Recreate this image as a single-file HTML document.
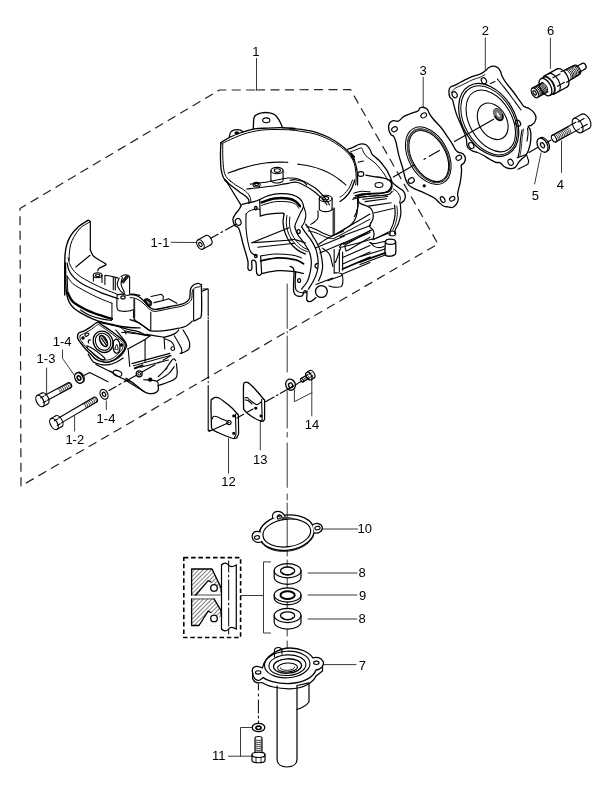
<!DOCTYPE html>
<html><head><meta charset="utf-8"><style>
html,body{margin:0;padding:0;background:#fff;width:616px;height:790px;overflow:hidden}
svg{display:block}
text{font-family:"Liberation Sans",sans-serif;font-size:13px;fill:#000}
svg{will-change:transform}
</style></head><body>
<svg width="616" height="790" viewBox="0 0 616 790">
<g fill="none" stroke="#000" stroke-width="1.1" stroke-linejoin="round" stroke-linecap="round">
<path d="M256,90 L350.5,89.5 L438,244 L21,486 L20,208.5 L219.5,90 Z" stroke="#222" stroke-dasharray="9 5.5" stroke-width="1.2" stroke-linecap="butt"/>
<path d="M256.5,58.5 V90" stroke="#3a3a3a" stroke-width="1"/>
<path d="M485.3,38 V69.5" stroke="#3a3a3a" stroke-width="1"/>
<path d="M550.4,38 V68.4" stroke="#3a3a3a" stroke-width="1"/>
<path d="M423.2,77.2 V108" stroke="#3a3a3a" stroke-width="1"/>
<path d="M541,153 L534.6,184" stroke="#3a3a3a" stroke-width="1"/>
<path d="M561.5,141 V172.4" stroke="#3a3a3a" stroke-width="1"/>
<path d="M171.2,242.3 L197,242.5" stroke="#3a3a3a" stroke-width="1"/>
<path d="M62.5,350 V358.4 L74.5,375.5" stroke="#3a3a3a" stroke-width="1"/>
<path d="M46.6,368 V394" stroke="#3a3a3a" stroke-width="1"/>
<path d="M74.6,416.4 V431" stroke="#3a3a3a" stroke-width="1"/>
<path d="M106.3,400.8 V409.6" stroke="#3a3a3a" stroke-width="1"/>
<path d="M228.5,438.3 V473.3" stroke="#3a3a3a" stroke-width="1"/>
<path d="M260.3,421.7 V450" stroke="#3a3a3a" stroke-width="1"/>
<path d="M294.4,389.8 V401.7 L312,392.6 M311.8,379 V415.8" stroke="#3a3a3a" stroke-width="1"/>
<path d="M323,529 H357.5" stroke="#3a3a3a" stroke-width="1"/>
<path d="M270.6,561.9 H263.5 V633 H270.6 M240.6,595.5 H263.5" stroke="#3a3a3a" stroke-width="1"/>
<path d="M308,573 H357 M308,595 H357 M308,619 H357" stroke="#3a3a3a" stroke-width="1"/>
<path d="M322.8,664.6 H356" stroke="#3a3a3a" stroke-width="1"/>
<path d="M252,727.5 H240.5 V756.2 M228.5,756.2 H252.6" stroke="#3a3a3a" stroke-width="1"/>
<path d="M287.2,284 V328.5 M287.2,331.5 V333 M287.2,336 V372 M287.2,391 V428 M287.2,432.5 V437 M287.2,443 V487.4 M287.2,494 V500 M287.2,503 V547 M287.2,551 V556 M287.2,560 V567 M287.2,578 V588 M287.2,602 V609 M287.2,630 V636 M287.2,641 V672" stroke-width="1" stroke="#3a3a3a"/>
<ellipse cx="534.9" cy="92.8" rx="2.97" ry="5.4" transform="rotate(-28.6 534.9 92.8)" stroke-width="1.3"/>
<ellipse cx="534.64" cy="92.94" rx="1.32" ry="2.4" transform="rotate(-28.6 534.64 92.94)" stroke-width="1.2"/>
<path d="M532.32,88.06 L542.85,82.31" stroke-width="1.2"/>
<path d="M537.48,97.54 L548.02,91.8" stroke-width="1.2"/>
<path d="M534.07,87.1 A2.97,5.4 -28.6 0 1 539.24,96.58" stroke-width="1"/>
<path d="M535.3,86.43 A2.97,5.4 -28.6 0 1 540.47,95.91" stroke-width="1"/>
<path d="M536.53,85.76 A2.97,5.4 -28.6 0 1 541.7,95.24" stroke-width="1"/>
<path d="M537.76,85.09 A2.97,5.4 -28.6 0 1 542.93,94.57" stroke-width="1"/>
<path d="M538.99,84.42 A2.97,5.4 -28.6 0 1 544.16,93.9" stroke-width="1"/>
<path d="M540.22,83.75 A2.97,5.4 -28.6 0 1 545.39,93.23" stroke-width="1"/>
<path d="M541.45,83.08 A2.97,5.4 -28.6 0 1 546.62,92.56" stroke-width="1"/>
<ellipse cx="545.44" cy="87.06" rx="5.23" ry="9.5" transform="rotate(-28.6 545.44 87.06)" stroke-width="1.3"/>
<path d="M540.89,78.71 L543.52,77.28" stroke-width="1.2"/>
<path d="M549.98,95.4 L552.62,93.96" stroke-width="1.2"/>
<path d="M543.52,77.28 A5.23,9.5 -28.6 0 1 552.62,93.96" stroke-width="1.2"/>
<path d="M543.58,76.34 L557.19,68.92" stroke-width="1.3"/>
<path d="M553.44,94.42 L567.05,87" stroke-width="1.3"/>
<path d="M543.58,76.34 A5.67,10.3 -28.6 0 1 553.44,94.42" stroke-width="1"/>
<path d="M548.41,73.7 A5.67,10.3 -28.6 0 1 558.27,91.79" stroke-width="1.2"/>
<path d="M552.94,77.84 L559.96,74.01" />
<path d="M557.49,86.18 L564.51,82.35" />
<path d="M557.19,68.92 A5.67,10.3 -28.6 0 1 567.05,87" stroke-width="1.3"/>
<path d="M561,71.74 L574.55,65.26" stroke-width="1.2"/>
<path d="M566.75,82.27 L579.53,74.39" stroke-width="1.2"/>
<path d="M564.66,70.08 A3.14,5.7 -28.6 0 1 570.11,80.09" stroke-width="0.9"/>
<path d="M566.06,69.32 A3.14,5.7 -28.6 0 1 571.52,79.33" stroke-width="0.9"/>
<path d="M567.47,68.55 A3.14,5.7 -28.6 0 1 572.92,78.56" stroke-width="0.9"/>
<path d="M568.87,67.79 A3.14,5.7 -28.6 0 1 574.33,77.8" stroke-width="0.9"/>
<path d="M570.28,67.02 A3.14,5.7 -28.6 0 1 575.73,77.03" stroke-width="0.9"/>
<path d="M571.68,66.25 A3.14,5.7 -28.6 0 1 577.14,76.26" stroke-width="0.9"/>
<path d="M573.09,65.49 A3.14,5.7 -28.6 0 1 578.54,75.5" stroke-width="0.9"/>
<path d="M574.55,65.26 A2.86,5.2 -28.6 0 1 579.53,74.39" />
<path d="M575.95,66.77 L581.66,63.66" stroke-width="1.2"/>
<path d="M579.01,72.39 L584.72,69.28" stroke-width="1.2"/>
<path d="M581.66,63.66 A2.88,3.2 -28.6 0 1 584.72,69.28" stroke-width="1.2"/>
<ellipse cx="554" cy="138.6" rx="2.09" ry="3.8" transform="rotate(-28.9 554 138.6)" />
<path d="M552.16,135.27 L575.8,122.22" />
<path d="M555.84,141.93 L579.47,128.88" />
<path d="M553.91,134.31 A2.09,3.8 -28.9 0 1 557.59,140.96" stroke-width="0.8"/>
<path d="M555.49,133.44 A2.09,3.8 -28.9 0 1 559.16,140.09" stroke-width="0.8"/>
<path d="M557.07,132.57 A2.09,3.8 -28.9 0 1 560.74,139.22" stroke-width="0.8"/>
<path d="M558.64,131.7 A2.09,3.8 -28.9 0 1 562.31,138.35" stroke-width="0.8"/>
<path d="M560.22,130.83 A2.09,3.8 -28.9 0 1 563.89,137.48" stroke-width="0.8"/>
<path d="M561.79,129.96 A2.09,3.8 -28.9 0 1 565.47,136.61" stroke-width="0.8"/>
<path d="M563.37,129.09 A2.09,3.8 -28.9 0 1 567.04,135.74" stroke-width="0.8"/>
<path d="M564.95,128.22 A2.09,3.8 -28.9 0 1 568.62,134.87" stroke-width="0.8"/>
<path d="M566.52,127.35 A2.09,3.8 -28.9 0 1 570.19,134" stroke-width="0.8"/>
<ellipse cx="577.64" cy="125.55" rx="4.4" ry="8" transform="rotate(-28.9 577.64 125.55)" />
<path d="M573.77,118.55 L581.65,114.2" />
<path d="M581.5,132.56 L589.38,128.21" />
<path d="M581.65,114.2 A4.4,8 -28.9 0 1 589.38,128.21" />
<path d="M577.94,121.96 L584.07,118.58" />
<path d="M581.08,127.65 L587.21,124.27" />
<path d="M551,140 L547,142.3" />
<path d="M538,147.3 L529,152.4" />
<ellipse cx="542.5" cy="145.2" rx="4.71" ry="7.6" transform="rotate(-28.9 542.5 145.2)" stroke-width="1.3"/>
<path d="M540.4,137.68 A4.71,7.6 -28.9 0 1 547.75,150.98" />
<ellipse cx="542.5" cy="145.2" rx="1.74" ry="2.8" transform="rotate(-28.9 542.5 145.2)" stroke-width="1.2"/>
<ellipse cx="200.4" cy="244.5" rx="3.22" ry="5.2" transform="rotate(-28.9 200.4 244.5)" />
<ellipse cx="200.4" cy="244.5" rx="1.43" ry="2.3" transform="rotate(-28.9 200.4 244.5)" />
<path d="M197.89,239.95 L205.77,235.6" />
<path d="M202.91,249.05 L210.79,244.7" />
<path d="M205.77,235.6 A3.22,5.2 -28.9 0 1 210.79,244.7" />
<path d="M210.8,238.2 L218,234.2" />
<path d="M221,232.5 L222.5,231.7" />
<path d="M225.5,230 L236,224.2" />
<ellipse cx="40" cy="401" rx="3.41" ry="6.2" transform="rotate(-28 40 401)" stroke-width="1.2"/>
<path d="M37.09,395.53 L41.95,392.94" />
<path d="M42.91,406.47 L47.77,403.89" />
<path d="M41.95,392.94 A3.41,6.2 -28 0 1 47.77,403.89" />
<path d="M40.59,397.85 L43.68,396.21" />
<path d="M43.17,402.71 L46.26,401.07" />
<path d="M44.87,395.24 L68.26,382.8" />
<path d="M47.5,400.19 L70.89,387.74" />
<path d="M68.26,382.8 A1.96,2.8 -28 0 1 70.89,387.74" />
<path d="M57.23,388.67 A1.54,2.8 -28 0 1 59.86,393.61" stroke-width="0.8"/>
<path d="M58.99,387.73 A1.54,2.8 -28 0 1 61.62,392.67" stroke-width="0.8"/>
<path d="M60.76,386.79 A1.54,2.8 -28 0 1 63.39,391.74" stroke-width="0.8"/>
<path d="M62.53,385.85 A1.54,2.8 -28 0 1 65.15,390.8" stroke-width="0.8"/>
<path d="M64.29,384.91 A1.54,2.8 -28 0 1 66.92,389.86" stroke-width="0.8"/>
<path d="M66.06,383.97 A1.54,2.8 -28 0 1 68.69,388.92" stroke-width="0.8"/>
<path d="M67.82,383.04 A1.54,2.8 -28 0 1 70.45,387.98" stroke-width="0.8"/>
<ellipse cx="54" cy="424" rx="3.41" ry="6.2" transform="rotate(-30.5 54 424)" stroke-width="1.2"/>
<path d="M50.85,418.66 L55.59,415.87" />
<path d="M57.15,429.34 L61.89,426.55" />
<path d="M55.59,415.87 A3.41,6.2 -30.5 0 1 61.89,426.55" />
<path d="M54.45,420.83 L57.47,419.05" />
<path d="M57.25,425.57 L60.26,423.79" />
<path d="M58.61,418.03 L93.94,397.23" />
<path d="M61.45,422.86 L96.78,402.05" />
<path d="M93.94,397.23 A1.96,2.8 -30.5 0 1 96.78,402.05" />
<path d="M82.74,403.82 A1.54,2.8 -30.5 0 1 85.58,408.65" stroke-width="0.8"/>
<path d="M84.46,402.81 A1.54,2.8 -30.5 0 1 87.3,407.63" stroke-width="0.8"/>
<path d="M86.18,401.79 A1.54,2.8 -30.5 0 1 89.02,406.62" stroke-width="0.8"/>
<path d="M87.91,400.78 A1.54,2.8 -30.5 0 1 90.75,405.6" stroke-width="0.8"/>
<path d="M89.63,399.76 A1.54,2.8 -30.5 0 1 92.47,404.59" stroke-width="0.8"/>
<path d="M91.35,398.75 A1.54,2.8 -30.5 0 1 94.19,403.57" stroke-width="0.8"/>
<path d="M93.08,397.73 A1.54,2.8 -30.5 0 1 95.92,402.56" stroke-width="0.8"/>
<ellipse cx="79" cy="378" rx="3.92" ry="5.6" transform="rotate(-28 79 378)" stroke-width="1.3"/>
<path d="M77.43,372.49 A3.92,5.6 -28 0 1 82.69,382.38" />
<ellipse cx="79" cy="378" rx="1.61" ry="2.3" transform="rotate(-28 79 378)" stroke-width="1.6"/>
<ellipse cx="104" cy="394.3" rx="3.64" ry="5.2" transform="rotate(-28 104 394.3)" stroke-width="1.2"/>
<ellipse cx="104" cy="394.3" rx="1.54" ry="2.2" transform="rotate(-28 104 394.3)" stroke-width="1.2"/>
<path d="M84.5,375.2 L89.7,372.6 L108,381.7" />
<path d="M109,390.5 L116,386.5" />
<path d="M119,384.8 L121,383.6" />
<path d="M124,382 L136,375.5" />
<path d="M142,372 L155,364.7" />
<path d="M158,363 L160,361.9" />
<path d="M163,360.2 L171,355.6" />
<path d="M417.9,111 C419.35,110.1 419.03,108.62 420,108 C420.97,107.38 422.47,107.05 423.7,107.3 C424.93,107.55 426.42,108.4 427.4,109.5 C428.38,110.6 428.63,112.32 429.6,113.9 C430.57,115.48 431.37,116.82 433.2,119 C435.03,121.18 438.4,124.32 440.6,127 C442.8,129.68 444.45,132.28 446.4,135.1 C448.35,137.92 450.77,141.43 452.3,143.9 C453.83,146.37 454.55,148.48 455.6,149.9 C456.65,151.32 457.33,151.72 458.6,152.4 C459.87,153.08 462.07,152.98 463.2,154 C464.33,155.02 465.27,157.02 465.4,158.5 C465.53,159.98 464.7,161.73 464,162.9 C463.3,164.07 461.6,164.28 461.2,165.5 C460.8,166.72 461.73,167.55 461.6,170.2 C461.47,172.85 461.07,177.5 460.4,181.4 C459.73,185.3 457.95,190.72 457.6,193.6 C457.25,196.48 458.47,196.98 458.3,198.7 C458.13,200.42 457.6,202.43 456.6,203.9 C455.6,205.37 453.75,207 452.3,207.5 C450.85,208 449.37,207.15 447.9,206.9 C446.43,206.65 444.97,206.75 443.5,206 C442.03,205.25 440.57,203.7 439.1,202.4 C437.63,201.1 436.4,199.4 434.7,198.2 C433,197 431.1,196.3 428.9,195.2 C426.7,194.1 423.95,192.7 421.5,191.6 C419.05,190.5 416.35,189.72 414.2,188.6 C412.05,187.48 410.05,186.5 408.6,184.9 C407.15,183.3 406.52,181.93 405.5,179 C404.48,176.07 403.6,171.2 402.5,167.3 C401.4,163.4 399.98,159.75 398.9,155.6 C397.82,151.45 396.85,145.58 396,142.4 C395.15,139.22 394.67,137.83 393.8,136.5 C392.93,135.17 391.65,135.62 390.8,134.4 C389.95,133.18 388.93,131.03 388.7,129.2 C388.47,127.37 388.68,124.83 389.4,123.4 C390.12,121.97 391.53,120.97 393,120.6 C394.47,120.23 396.37,121.9 398.2,121.2 C400.03,120.5 401.82,117.7 404,116.4 C406.18,115.1 408.98,114.3 411.3,113.4 C413.62,112.5 416.45,111.9 417.9,111 Z" stroke-width="1.3"/>
<ellipse cx="423.7" cy="115.4" rx="3" ry="2.3" transform="rotate(-30 423.7 115.4)" />
<ellipse cx="394.5" cy="129.2" rx="3" ry="2.3" transform="rotate(-30 394.5 129.2)" />
<ellipse cx="458.8" cy="157.7" rx="3" ry="2.3" transform="rotate(-30 458.8 157.7)" />
<ellipse cx="411.3" cy="180.5" rx="3.2" ry="2.5" transform="rotate(-30 411.3 180.5)" />
<ellipse cx="442.7" cy="199.6" rx="2" ry="3.2" transform="rotate(-30 442.7 199.6)" />
<ellipse cx="452.2" cy="198.8" rx="2.8" ry="2" transform="rotate(-30 452.2 198.8)" />
<circle cx="424.2" cy="185.8" r="1.1" fill="#000"/>
<ellipse cx="428.25" cy="155.7" rx="31" ry="19.7" transform="rotate(61 428.25 155.7)" stroke-width="1"/>
<ellipse cx="428.5" cy="155.8" rx="29.3" ry="18.2" transform="rotate(61 428.5 155.8)" stroke-width="0.8"/>
<ellipse cx="428.75" cy="155.95" rx="27.7" ry="16.9" transform="rotate(61 428.75 155.95)" stroke-width="1.2"/>
<path d="M412.05,162.08 L411.03,159.83 L410.14,157.54 L409.39,155.25 L408.79,152.95 L408.34,150.68 L408.04,148.45 L407.89,146.28 L407.91,144.17 L408.08,142.16 L408.4,140.25 L408.88,138.45 L409.51,136.79 L410.28,135.28 L411.19,133.92 L412.24,132.73 L413.4,131.71 L414.68,130.87 L416.07,130.23 L417.55,129.78 L419.12,129.53 L420.75,129.47 L422.45,129.62 L424.19,129.97 L425.96,130.51" stroke-width="1.4" stroke="#555" stroke-dasharray="0.6 0.9"/>
<path d="M393.3,177 L414.6,164.7" />
<path d="M424,159.3 L425.6,158.4" />
<path d="M429.2,156.3 L439.4,150.4" />
<path d="M449,90.5 C449.12,88.88 449.58,87.9 450.4,87.1 C451.22,86.3 452.62,86.28 453.9,85.7 C455.18,85.12 456.35,84.53 458.1,83.6 C459.85,82.67 462.08,81.27 464.4,80.1 C466.72,78.93 469.57,77.53 472,76.6 C474.43,75.67 477.13,75.2 479,74.5 C480.87,73.8 481.95,73.18 483.2,72.4 C484.45,71.62 485.53,70.62 486.5,69.8 C487.47,68.98 487.78,68.12 489,67.5 C490.22,66.88 492.27,66.02 493.8,66.1 C495.33,66.18 497.07,67.08 498.2,68 C499.33,68.92 499.97,70.27 500.6,71.6 C501.23,72.93 501.2,74.3 502,76 C502.8,77.7 503.5,79.13 505.4,81.8 C507.3,84.47 510.85,88.6 513.4,92 C515.95,95.4 518.97,99.82 520.7,102.2 C522.43,104.58 522.35,105.22 523.8,106.3 C525.25,107.38 527.73,107.7 529.4,108.7 C531.07,109.7 532.7,110.85 533.8,112.3 C534.9,113.75 535.88,115.7 536,117.4 C536.12,119.1 535.35,121.17 534.5,122.5 C533.65,123.83 531.95,124.73 530.9,125.4 C529.85,126.07 528.3,125.73 528.2,126.5 C528.1,127.27 529.85,128.25 530.3,130 C530.75,131.75 530.93,134.62 530.9,137 C530.87,139.38 530.58,141.87 530.1,144.3 C529.62,146.73 528.75,149.72 528,151.6 C527.25,153.48 526.68,154.33 525.6,155.6 C524.52,156.87 522.67,158.07 521.5,159.2 C520.33,160.33 519.7,161 518.6,162.4 C517.5,163.8 516.5,166.58 514.9,167.6 C513.3,168.62 510.82,168.68 509,168.5 C507.18,168.32 505.45,167.45 504,166.5 C502.55,165.55 501.68,163.5 500.3,162.8 C498.92,162.1 497.4,162.85 495.7,162.3 C494,161.75 492.18,160.67 490.1,159.5 C488.02,158.33 485.28,156.47 483.2,155.3 C481.12,154.13 479.35,153.2 477.6,152.5 C475.85,151.8 474.2,151.78 472.7,151.1 C471.2,150.42 469.55,149.37 468.6,148.4 C467.65,147.43 467.35,146.7 467,145.3 C466.65,143.9 466.83,141.82 466.5,140 C466.17,138.18 465.93,136.95 465,134.4 C464.07,131.85 462.28,127.95 460.9,124.7 C459.52,121.45 457.87,118.15 456.7,114.9 C455.53,111.65 454.6,107.72 453.9,105.2 C453.2,102.68 453.2,101.2 452.5,99.8 C451.8,98.4 450.28,98.35 449.7,96.8 C449.12,95.25 448.88,92.12 449,90.5 Z" stroke-width="1.3"/>
<path d="M451.5,92.5 C452.08,91.8 453.58,89.38 455,88.3 C456.42,87.22 458.17,86.88 460,86 C461.83,85.12 463.83,84.07 466,83 C468.17,81.93 470.67,80.55 473,79.6 C475.33,78.65 478,78.15 480,77.3 C482,76.45 484.17,74.97 485,74.5" stroke-width="0.9"/>
<path d="M497.4,79 C498.33,80.17 500.9,83.33 503,86 C505.1,88.67 507.67,91.92 510,95 C512.33,98.08 515.17,102 517,104.5 C518.83,107 520.33,109.08 521,110" />
<path d="M490.5,83.5 L495,81.5" />
<path d="M527.5,128 C527.58,129 528.08,131.8 528,134 C527.92,136.2 527.17,140 527,141.2" />
<path d="M522.1,129.7 C521.83,131.22 520.9,135.63 520.5,138.8 C520.1,141.97 520.12,145.55 519.7,148.7 C519.28,151.85 518.28,156.2 518,157.7" />
<path d="M523.6,129 C523.33,130.67 522.4,135.75 522,139 C521.6,142.25 521.57,145.58 521.2,148.5 C520.83,151.42 520.03,155.17 519.8,156.5" stroke-width="0.8"/>
<path d="M517.2,157.7 L526.3,154.4 L528.7,161 L527.9,164.3 L518,169.2" />
<ellipse cx="454.6" cy="94.7" rx="3.2" ry="2.4" transform="rotate(60 454.6 94.7)" />
<ellipse cx="483.9" cy="80.8" rx="3.2" ry="2.4" transform="rotate(60 483.9 80.8)" />
<ellipse cx="471.3" cy="145.6" rx="3.2" ry="2.4" transform="rotate(60 471.3 145.6)" />
<ellipse cx="518" cy="123.3" rx="3.2" ry="2.4" transform="rotate(60 518 123.3)" />
<ellipse cx="510.6" cy="162.3" rx="3.2" ry="2.4" transform="rotate(60 510.6 162.3)" />
<ellipse cx="488.7" cy="120" rx="39.3" ry="26.2" transform="rotate(60 488.7 120)" stroke-width="1.2"/>
<ellipse cx="489" cy="120.3" rx="37.3" ry="24.4" transform="rotate(60 489 120.3)" stroke-width="1"/>
<ellipse cx="490.8" cy="120.9" rx="33.5" ry="21" transform="rotate(60 490.8 120.9)" stroke-width="1.1"/>
<ellipse cx="492.7" cy="121.3" rx="19.5" ry="13.8" transform="rotate(60 492.7 121.3)" stroke-width="1.1"/>
<ellipse cx="498.3" cy="114.5" rx="6.4" ry="3.8" transform="rotate(60 498.3 114.5)" stroke-width="1" fill="#fff"/>
<ellipse cx="498.1" cy="114.7" rx="4.8" ry="2.6" transform="rotate(60 498.1 114.7)" stroke-width="3.5" stroke="#777" stroke-dasharray="0.7 0.8"/>
<path d="M502.49,114.61 L502.68,115.29 L502.81,115.96 L502.88,116.61 L502.89,117.23 L502.83,117.81 L502.72,118.35 L502.54,118.84 L502.31,119.26 L502.02,119.63 L501.69,119.92 L501.3,120.14 L500.88,120.29 L500.42,120.35 L499.93,120.34 L499.43,120.25 L498.9,120.08 L498.37,119.84 L497.84,119.52 L497.31,119.13 L496.8,118.69 L496.3,118.18 L495.84,117.63 L495.4,117.03 L495.01,116.4" stroke-width="1.6"/>
<path d="M454.5,141.6 L493.6,119.2" />
<ellipse cx="286.6" cy="532.6" rx="27.6" ry="17.6" transform="rotate(-7 286.6 532.6)" stroke-width="1.3"/>
<ellipse cx="286.8" cy="533" rx="24" ry="13.8" transform="rotate(-7 286.8 533)" stroke-width="1.2"/>
<path d="M313.95,533.32 L313.46,535.39 L312.6,537.43 L311.4,539.42 L309.85,541.33 L308,543.14 L305.85,544.82 L303.45,546.35 L300.81,547.7 L297.98,548.86 L295,549.82 L291.91,550.56 L288.74,551.07 L285.55,551.34 L282.37,551.37 L279.25,551.17 L276.22,550.72 L273.34,550.04 L270.63,549.14 L268.15,548.03 L265.91,546.73 L263.95,545.25 L262.3,543.61 L260.97,541.83 L259.99,539.95" stroke-width="0.9"/>
<path d="M260.5,532 C255,530 251.5,533 252.3,537.5 C253,542 258,543.5 262,541.5" fill="#fff" stroke-width="1.2"/>
<ellipse cx="257" cy="537.5" rx="2.6" ry="1.8" transform="rotate(-10 257 537.5)" />
<path d="M312.5,525 C316,522.5 321,523 322.3,527 C323,531 319,533.5 314.5,533" fill="#fff" stroke-width="1.2"/>
<ellipse cx="317.5" cy="528" rx="2.6" ry="1.8" transform="rotate(-10 317.5 528)" />
<path d="M272.5,517.5 C272,514 274,511.5 277.5,511.4 C281,511.3 283,513 284.5,515.5 L286,518.5 C285,519.5 283.5,519.5 282.5,517.5 C281.5,515.5 280,514.5 278.5,515 C277,515.5 277,517 277.5,518.5" fill="#fff" stroke-width="1.1"/>
<path d="M278.02,519.08 L278.35,518.88 L278.72,518.69 L279.13,518.52 L279.59,518.36 L280.08,518.22 L280.61,518.09 L281.18,517.98 L281.79,517.89 L282.42,517.82 L283.08,517.76 L283.77,517.72 L284.48,517.7 L285.21,517.7 L285.96,517.72 L286.72,517.76 L287.48,517.81 L288.26,517.88 L289.04,517.97 L289.82,518.08 L290.59,518.2 L291.36,518.34 L292.12,518.49 L292.86,518.66 L293.59,518.85" stroke-width="1.6" stroke="#444" stroke-dasharray="0.7 0.7"/>
<path d="M274.2,570.7 V577.2 A13.4,7.1 0 0 0 301,577.2 V570.7" stroke-width="1.2"/>
<ellipse cx="287.6" cy="570.7" rx="13.4" ry="7.1" transform="rotate(0 287.6 570.7)" stroke-width="1.2"/>
<ellipse cx="287.6" cy="570.9" rx="7.1" ry="3.9" transform="rotate(0 287.6 570.9)" stroke-width="1.3" fill="#fff"/>
<path d="M292.8,572.5 L292.76,572.81 L292.62,573.12 L292.4,573.42 L292.1,573.7 L291.73,573.96 L291.28,574.2 L290.77,574.4 L290.2,574.58 L289.59,574.72 L288.95,574.82 L288.28,574.88 L287.6,574.9 L286.92,574.88 L286.25,574.82 L285.61,574.72 L285,574.58 L284.43,574.4 L283.92,574.2 L283.47,573.96 L283.1,573.7 L282.8,573.42 L282.58,573.12 L282.44,572.81 L282.4,572.5" />
<path d="M274.2,595 V597.8 A13.4,7.1 0 0 0 301,597.8 V595" stroke-width="1.2"/>
<ellipse cx="287.6" cy="595" rx="13.4" ry="7.1" transform="rotate(0 287.6 595)" stroke-width="1.2"/>
<ellipse cx="287.6" cy="595.2" rx="7.1" ry="3.9" transform="rotate(0 287.6 595.2)" stroke-width="2" fill="#fff"/>
<path d="M274.2,615.5 V622 A13.4,7.1 0 0 0 301,622 V615.5" stroke-width="1.2"/>
<ellipse cx="287.6" cy="615.5" rx="13.4" ry="7.1" transform="rotate(0 287.6 615.5)" stroke-width="1.2"/>
<ellipse cx="287.6" cy="615.7" rx="7.1" ry="3.9" transform="rotate(0 287.6 615.7)" stroke-width="1.3" fill="#fff"/>
<path d="M292.8,617.3 L292.76,617.61 L292.62,617.92 L292.4,618.22 L292.1,618.5 L291.73,618.76 L291.28,619 L290.77,619.2 L290.2,619.38 L289.59,619.52 L288.95,619.62 L288.28,619.68 L287.6,619.7 L286.92,619.68 L286.25,619.62 L285.61,619.52 L285,619.38 L284.43,619.2 L283.92,619 L283.47,618.76 L283.1,618.5 L282.8,618.22 L282.58,617.92 L282.44,617.61 L282.4,617.3" />
<rect x="183.8" y="557.6" width="56.8" height="79.9" stroke-dasharray="4.5 2.8" stroke-width="1.6" stroke-linecap="butt"/>
<defs><pattern id="hat" patternUnits="userSpaceOnUse" width="3" height="3" patternTransform="rotate(45)"><line x1="0" y1="0" x2="0" y2="3" stroke="#000" stroke-width="1"/></pattern></defs>
<path d="M191.6,569 H212 L221.1,587.9 V595 H191.6 Z M191.6,598.9 H214 L221.1,610.6 V625.5 H191.6 Z" fill="url(#hat)" stroke="none"/>
<path d="M195.8,595 L208.1,580.7 L214,584 L221.1,590 V595 Z M199,625.5 L208.1,611.2 L214,613.8 L221.1,619 V625.5 Z" fill="#fff" stroke="none"/>
<path d="M191.6,595 V569 H212 L221.1,587.9 V592 M195.8,595 L208.1,580.7 L211,582 M191.6,598.9 V625.5 H199 L208.1,611.2 L211,612.5 M214,598.9 L221.1,610.6 V615" stroke-width="1.3"/>
<path d="M191.6,595 H221 M191.6,598.9 H214" stroke-width="0.7"/>
<circle cx="214" cy="587.9" r="3.3" fill="#fff" stroke-width="1.3"/>
<circle cx="214" cy="618.4" r="3.3" fill="#fff" stroke-width="1.3"/>
<path d="M221.5,565 V629 M236.3,565 V629" stroke-width="1.2"/>
<path d="M221.5,565 C224,562 227,563 228.5,565 C230,567 233,567 236.3,565 M221.5,629 C224,632 227,631 228.5,629 C230,627 233,627 236.3,629" stroke-width="1.2"/>
<path d="M228.7,561 V572 M228.7,575 V577 M228.7,580 V600 M228.7,603 V605 M228.7,608 V626 M228.7,629 V634" stroke-width="1"/>
<path d="M277.1,686 V759 C277.1,764 281,767 287,767 C293,767 297,764 297,759 V686" stroke-width="1.2"/>
<path d="M297,685.5 L309,682.8 V702 C306,706 300,708.5 297,709.5" stroke-width="1.2"/>
<path d="M252.5,672 C251.5,668 254.5,666 258,666.5 L262.5,667.8 C265,655 280,648 290,648 C300,648 309,652 313,658 C316,656.5 321,657.5 323.2,661.5 C324.5,665.5 321,669.5 316,670 C313.5,677 304,683 290,683.5 C276,684 266,680 263.2,677.5 L260,680 C255.5,681.5 253,677.5 252.5,672 Z" fill="#fff" stroke-width="1.3"/>
<path d="M252.6,673 V678.5 C254,682.5 258,683.5 262,682.5 C267,686 278,689 290,688.8 C303,688.5 313,683 316,676 L322.5,671 V665.5" stroke-width="1.2"/>
<ellipse cx="258.2" cy="672.4" rx="2.7" ry="1.7" transform="rotate(0 258.2 672.4)" />
<ellipse cx="316.3" cy="662.8" rx="2.7" ry="1.7" transform="rotate(0 316.3 662.8)" />
<ellipse cx="287.2" cy="664.5" rx="22.8" ry="13.3" transform="rotate(-3 287.2 664.5)" stroke-width="1.1"/>
<ellipse cx="287.4" cy="665.2" rx="18.5" ry="10.3" transform="rotate(-3 287.4 665.2)" stroke-width="1.1"/>
<ellipse cx="287.5" cy="666" rx="14" ry="7.2" transform="rotate(-3 287.5 666)" stroke-width="1.3"/>
<ellipse cx="287.5" cy="667.5" rx="10" ry="4.5" transform="rotate(-3 287.5 667.5)" stroke-width="1"/>
<path d="M294.49,667.13 L294.45,667.5 L294.29,667.87 L294.01,668.23 L293.63,668.58 L293.14,668.91 L292.55,669.22 L291.87,669.5 L291.12,669.74 L290.31,669.94 L289.45,670.11 L288.56,670.22 L287.65,670.3 L286.73,670.32 L285.83,670.3 L284.96,670.22 L284.13,670.1 L283.36,669.94 L282.66,669.74 L282.04,669.49 L281.52,669.22 L281.1,668.91 L280.79,668.58 L280.59,668.23 L280.51,667.87" stroke-width="1"/>
<path d="M274.5,657 V650 C274.5,648 277,647.2 279,647.5 C281,647.8 282,649 282,651 V654" stroke-width="1.1"/>
<path d="M258.4,684 V690 M258.4,694 V696 M258.4,700 V713 M258.4,716 V718 M258.4,721 V723" stroke-width="1"/>
<ellipse cx="258.5" cy="727.5" rx="6.3" ry="4.2" transform="rotate(0 258.5 727.5)" stroke-width="1.3"/>
<ellipse cx="258.5" cy="727.8" rx="2.6" ry="1.7" transform="rotate(0 258.5 727.8)" stroke-width="1.6"/>
<path d="M255,737.8 C255,736 262,736 262,737.8 V752 M255,737.8 V752" stroke-width="1.1"/>
<path d="M255.2,740 Q258.6,741.2 261.8,740" stroke-width="0.8"/>
<path d="M255.2,742 Q258.6,743.2 261.8,742" stroke-width="0.8"/>
<path d="M255.2,744 Q258.6,745.2 261.8,744" stroke-width="0.8"/>
<path d="M255.2,746 Q258.6,747.2 261.8,746" stroke-width="0.8"/>
<path d="M255.2,748 Q258.6,749.2 261.8,748" stroke-width="0.8"/>
<path d="M255.2,750 Q258.6,751.2 261.8,750" stroke-width="0.8"/>
<path d="M252,754.8 V760.5 C252,763.5 265,763.5 265,760.5 V754.8" stroke-width="1.2"/>
<ellipse cx="258.5" cy="754.8" rx="6.5" ry="2.7" transform="rotate(0 258.5 754.8)" stroke-width="1.2"/>
<path d="M256,757.5 V762.6 M261,757.5 V762.6" stroke-width="0.8"/>
<path d="M211.5,427.5 C211.42,423.33 210.83,407.25 211,402.5 C211.17,397.75 211.75,399.85 212.5,399 C213.25,398.15 214.42,397.57 215.5,397.4 C216.58,397.23 217.25,397.07 219,398 C220.75,398.93 223.83,401.33 226,403 C228.17,404.67 230.17,406.25 232,408 C233.83,409.75 236.17,412.58 237,413.5" stroke-width="1.3"/>
<path d="M237,413.5 L238.4,415 L238.6,434 L236.8,437.8" stroke-width="1.2"/>
<path d="M235.5,414.2 L236,434.5 L234.5,437.6" />
<path d="M236.8,437.8 C236.17,437.92 234.8,438.8 233,438.5 C231.2,438.2 228.5,437 226,436 C223.5,435 220.17,433.5 218,432.5 C215.83,431.5 214.08,430.83 213,430 C211.92,429.17 211.75,427.92 211.5,427.5" stroke-width="1.2"/>
<path d="M212,419 C212.25,418.58 212.67,416.87 213.5,416.5 C214.33,416.13 215.42,416.3 217,416.8 C218.58,417.3 221.33,418.8 223,419.5 C224.67,420.2 226.33,420.75 227,421" />
<path d="M226.5,422.8 C226.83,422.43 227.78,420.8 228.5,420.6 C229.22,420.4 230.45,421.03 230.8,421.6 C231.15,422.17 231.07,423.53 230.6,424 C230.13,424.47 228.68,424.6 228,424.4 C227.32,424.2 226.75,423.07 226.5,422.8" />
<ellipse cx="233.8" cy="416" rx="1.1" ry="0.9" transform="rotate(0 233.8 416)" fill="#000"/>
<ellipse cx="233.8" cy="433.4" rx="1.1" ry="0.9" transform="rotate(0 233.8 433.4)" fill="#000"/>
<path d="M203,289 H208.2 V316 M208.2,317.5 V318.5 M208.2,320 V378.5 M208.2,381.5 V382.5 M208.2,385.5 V430.4 H211.5"/>
<path d="M209,431.5 L229,422.5" />
<path d="M237,418 L243.5,414.3" />
<path d="M246.7,412.5 L253,408.9" />
<path d="M265.5,401.8 L274,397" />
<path d="M276.5,395.5 L278,394.7" />
<path d="M280.5,393.3 L294,385.7" />
<path d="M296,384.5 L298,383.4" />
<path d="M298.8,382.8 L302,381" />
<path d="M243.6,409 C243.58,405.17 243.27,390.42 243.5,386 C243.73,381.58 244.25,383.07 245,382.5 C245.75,381.93 246.67,381.85 248,382.6 C249.33,383.35 251.25,385.27 253,387 C254.75,388.73 256.75,391 258.5,393 C260.25,395 262.67,398 263.5,399" stroke-width="1.3"/>
<path d="M263.5,399 L264.6,400 L264.6,419.5 L262.8,421.4" stroke-width="1.2"/>
<path d="M261.6,399.6 L262.2,419.5 L261,421.2" />
<path d="M262.8,421.4 C262,421.17 259.97,420.9 258,420 C256.03,419.1 253,417.33 251,416 C249,414.67 247.23,413.17 246,412 C244.77,410.83 244,409.5 243.6,409" stroke-width="1.2"/>
<path d="M244.8,398 C245.17,397.93 245.97,397.1 247,397.6 C248.03,398.1 249.75,400.02 251,401 C252.25,401.98 253.45,402.9 254.5,403.5 C255.55,404.1 256.22,404.85 257.3,404.6 C258.38,404.35 260.38,402.43 261,402" />
<path d="M245,400 C245.5,400.08 246.83,399.83 248,400.5 C249.17,401.17 251.33,403.42 252,404" />
<ellipse cx="255.8" cy="408.3" rx="1.1" ry="0.9" transform="rotate(0 255.8 408.3)" fill="#000"/>
<ellipse cx="261" cy="416" rx="1" ry="0.9" transform="rotate(0 261 416)" fill="#000"/>
<ellipse cx="290.5" cy="384.7" rx="4.8" ry="5.6" transform="rotate(-20 290.5 384.7)" stroke-width="1.3"/>
<ellipse cx="290.6" cy="385.3" rx="2" ry="2.4" transform="rotate(-20 290.6 385.3)" stroke-width="1.4"/>
<ellipse cx="302" cy="380.2" rx="1.2" ry="2" transform="rotate(-31 302 380.2)" />
<path d="M300.97,378.49 L307.4,374.62" />
<path d="M303.03,381.91 L309.46,378.05" />
<path d="M302.68,377.46 A1.2,2 -31 0 1 304.74,380.88" stroke-width="0.8"/>
<path d="M303.97,376.68 A1.2,2 -31 0 1 306.03,380.11" stroke-width="0.8"/>
<path d="M305.26,375.91 A1.2,2 -31 0 1 307.32,379.34" stroke-width="0.8"/>
<path d="M306.54,375.14 A1.2,2 -31 0 1 308.6,378.57" stroke-width="0.8"/>
<ellipse cx="308.86" cy="376.08" rx="2.58" ry="4.3" transform="rotate(-31 308.86 376.08)" stroke-width="1.2"/>
<path d="M306.64,372.39 L309.64,370.59" />
<path d="M311.07,379.77 L314.07,377.96" />
<path d="M309.64,370.59 A2.58,4.3 -31 0 1 314.07,377.96" />
<path d="M308.94,374.28 L311.08,372.99" />
<path d="M310.64,377.11 L312.78,375.82" />
<path d="M253.31,129.03 C253.42,127.19 253.42,120.37 253.96,117.99 C254.5,115.61 255.26,115.61 256.56,114.74 C257.86,113.87 259.59,113.12 261.75,112.79 C263.92,112.47 267.38,112.47 269.55,112.79 C271.71,113.12 273.23,113.66 274.74,114.74 C276.26,115.82 277.55,117.66 278.64,119.29 C279.72,120.91 280.58,123.07 281.23,124.48 C281.88,125.89 282.32,127.19 282.53,127.73" stroke-width="1.3"/>
<ellipse cx="266.3" cy="120.3" rx="3.6" ry="2.4" transform="rotate(0 266.3 120.3)" />
<path d="M229.29,136.82 C229.5,136.06 229.94,133.35 230.58,132.27 C231.23,131.19 232.1,130.76 233.18,130.32 C234.26,129.89 235.78,129.68 237.08,129.68 C238.38,129.68 240,129.94 240.97,130.32 C241.95,130.71 242.6,131.73 242.92,132.01" stroke-width="1.2"/>
<ellipse cx="236.8" cy="132.9" rx="1.8" ry="1.1" transform="rotate(0 236.8 132.9)" fill="#000"/>
<path d="M220.84,142.66 C222.25,141.8 225.61,139.24 229.29,137.47 C232.97,135.69 238.92,133.42 242.92,132.01 C246.93,130.61 249.31,129.68 253.31,129.03 C257.32,128.38 262.08,128.33 266.95,128.12 C271.82,127.9 277.86,127.68 282.53,127.73 C287.21,127.77 292.92,128.27 295,128.38" stroke-width="1.3"/>
<path d="M221.49,143.96 C223.01,143.2 226.26,141.26 230.58,139.42 C234.91,137.58 241.41,134.55 247.47,132.92 C253.53,131.3 259.03,130.17 266.95,129.68 C274.87,129.18 290.32,129.89 295,129.94" stroke-width="1"/>
<path d="M220.84,142.66 C220.78,145.04 220.39,152.4 220.45,156.95 C220.52,161.49 220.74,166.47 221.23,169.94 C221.73,173.4 222.32,175.56 223.44,177.73 C224.57,179.89 227.23,182.06 227.99,182.92" stroke-width="1.3"/>
<path d="M222.79,143.96 C222.79,146.13 222.62,152.62 222.79,156.95 C222.97,161.28 223.29,166.69 223.83,169.94 C224.37,173.18 224.91,174.48 226.04,176.43 C227.16,178.38 229.83,180.76 230.58,181.62" stroke-width="1"/>
<path d="M227.99,173.18 C230.15,172.42 236.65,170 240.97,168.64 C245.3,167.27 249.63,165.97 253.96,165 C258.29,164.03 262.62,163.27 266.95,162.79 C271.28,162.32 276.47,162.21 279.94,162.14 C283.4,162.08 286.43,162.36 287.73,162.4" />
<ellipse cx="277" cy="170.6" rx="6.1" ry="3.2" transform="rotate(0 277 170.6)" />
<ellipse cx="277.3" cy="170.6" rx="3.1" ry="1.8" transform="rotate(0 277.3 170.6)" />
<path d="M270.9,170.6 L270.9,180.5" />
<path d="M283.1,170.6 L283.1,179.5" />
<path d="M283.1,180 L283.05,180.39 L282.89,180.78 L282.64,181.15 L282.28,181.5 L281.84,181.83 L281.31,182.12 L280.71,182.38 L280.05,182.6 L279.33,182.77 L278.58,182.9 L277.8,182.97 L277,183 L276.2,182.97 L275.42,182.9 L274.67,182.77 L273.95,182.6 L273.29,182.38 L272.69,182.12 L272.16,181.83 L271.72,181.5 L271.36,181.15 L271.11,180.78 L270.95,180.39 L270.9,180" />
<path d="M290,128.38 C292.16,128.59 298.66,129.03 302.99,129.68 C307.32,130.32 311.65,130.97 315.97,132.27 C320.3,133.57 325.06,135.52 328.96,137.47 C332.86,139.42 336.32,141.8 339.35,143.96 C342.38,146.13 344.98,148.29 347.14,150.45 C349.31,152.62 351.04,155 352.34,156.95 C353.64,158.9 354.18,159.98 354.94,162.14 C355.69,164.31 356.45,167.34 356.88,169.94 C357.32,172.53 357.42,175.22 357.53,177.73 C357.64,180.24 357.53,183.79 357.53,185" stroke-width="1.3"/>
<path d="M290,129.68 C292.16,130 298.66,130.87 302.99,131.62 C307.32,132.38 311.65,132.92 315.97,134.22 C320.3,135.52 325.06,137.47 328.96,139.42 C332.86,141.36 336.32,143.74 339.35,145.91 C342.38,148.07 345.09,150.35 347.14,152.4 C349.2,154.46 350.5,156.41 351.69,158.25 C352.88,160.09 353.64,161.49 354.29,163.44 C354.94,165.39 355.26,167.55 355.58,169.94 C355.91,172.32 356.23,175.22 356.23,177.73 C356.23,180.24 355.69,183.79 355.58,185" stroke-width="1"/>
<path d="M297.79,164.09 C299.74,164.42 305.37,165.06 309.48,166.04 C313.59,167.01 318.57,168.42 322.47,169.94 C326.36,171.45 329.61,173.18 332.86,175.13 C336.1,177.08 339.78,179.98 341.95,181.62 C344.11,183.27 345.19,184.44 345.84,185" />
<path d="M290,180.32 C290.87,180.22 293.03,179.46 295.19,179.68 C297.36,179.89 301.04,180.74 302.99,181.62 C304.94,182.51 306.23,184.44 306.88,185" />
<path d="M224.61,180 C225.75,180.97 228.99,183.9 231.43,185.84 C233.87,187.79 236.79,189.9 239.22,191.69 C241.66,193.47 244.48,195.26 246.04,196.56 C247.6,197.86 248.09,198.35 248.57,199.48 C249.06,200.62 248.9,202.73 248.96,203.38" stroke-width="1.3"/>
<path d="M229.48,180 C230.46,180.81 233.22,183.41 235.33,184.87 C237.44,186.33 240.03,187.31 242.14,188.77 C244.26,190.23 246.59,192.01 247.99,193.64 C249.39,195.26 250.04,197.05 250.52,198.51 C251.01,199.97 250.85,201.75 250.91,202.4" stroke-width="1"/>
<path d="M225.59,180 L241.17,205.33" stroke-width="1.2"/>
<ellipse cx="256.6" cy="184.7" rx="3.5" ry="2.3" transform="rotate(0 256.6 184.7)" />
<ellipse cx="256.6" cy="184.5" rx="1.8" ry="1.1" transform="rotate(0 256.6 184.5)" />
<path d="M259.68,199.48 C261.14,198.83 265.04,196.56 268.45,195.59 C271.85,194.61 276.24,193.8 280.13,193.64 C284.03,193.47 288.58,193.8 291.82,194.61 C295.07,195.42 297.67,196.72 299.62,198.51 C301.56,200.29 303.19,203.22 303.51,205.33 C303.84,207.44 301.89,210.2 301.56,211.17" stroke-width="1.2"/>
<path d="M261.63,202.4 C263.74,201.75 269.91,199.16 274.29,198.51 C278.67,197.86 284.36,198.02 287.93,198.51 C291.5,198.99 293.71,200.13 295.72,201.43 C297.73,202.73 299.29,205.49 300.01,206.3" stroke-width="2.4"/>
<path d="M261.63,205.33 C263.74,204.74 269.91,202.4 274.29,201.82 C278.67,201.24 284.36,201.4 287.93,201.82 C291.5,202.24 293.93,203.28 295.72,204.35 C297.51,205.42 298.16,207.6 298.64,208.25" stroke-width="1"/>
<path d="M259.68,199.48 L260.26,216.04" stroke-width="1.2"/>
<path d="M260.26,216.04 C261.63,215.72 264.81,214.58 268.45,214.09 C272.08,213.61 279.49,213.12 282.08,213.12 C284.68,213.12 283.71,213.93 284.03,214.09" stroke-width="1.2"/>
<path d="M284.03,214.09 C283.87,215.55 282.89,219.78 283.06,222.86 C283.22,225.94 283.87,229.35 285,232.6 C286.14,235.85 287.76,239.42 289.88,242.34 C291.99,245.26 295.07,248.19 297.67,250.13 C300.27,252.08 304.16,253.38 305.46,254.03" stroke-width="1.3"/>
<path d="M286.95,215.46 C286.86,216.85 286.14,220.91 286.37,223.83 C286.6,226.76 287.15,229.97 288.32,232.99 C289.49,236.01 291.34,239.35 293.38,241.95 C295.43,244.55 298.25,246.95 300.59,248.58 C302.93,250.2 306.27,251.17 307.41,251.69" stroke-width="1"/>
<path d="M289.88,217.02 C289.81,218.25 289.23,221.76 289.49,224.42 C289.75,227.08 290.23,230.17 291.43,232.99 C292.64,235.82 294.75,239 296.69,241.37 C298.64,243.74 301.17,245.82 303.12,247.21 C305.07,248.61 307.51,249.32 308.38,249.74" stroke-width="1"/>
<path d="M241.17,205.33 C240.85,205.98 240.2,207.76 239.22,209.22 C238.25,210.68 236.37,212.47 235.33,214.09 C234.29,215.72 233.15,217.18 232.99,218.96 C232.83,220.75 233.48,223.35 234.35,224.81 C235.23,226.27 237.27,226.43 238.25,227.73 C239.22,229.03 239.39,229.84 240.2,232.6 C241.01,235.36 242.14,240.72 243.12,244.29 C244.09,247.86 245.23,251.11 246.04,254.03 C246.85,256.95 247.66,259.39 247.99,261.82 C248.31,264.26 247.66,267.18 247.99,268.64 C248.31,270.1 249.29,270.59 249.94,270.59 C250.59,270.59 251.56,270.27 251.89,268.64 C252.21,267.02 251.24,261.99 251.89,260.85 C252.54,259.71 254.97,259.71 255.78,261.82 C256.59,263.93 256.11,271.24 256.76,273.51 C257.41,275.79 258.87,275.46 259.68,275.46 C260.49,275.46 261.3,273.84 261.63,273.51" stroke-width="1.3"/>
<path d="M246.04,214.09 C246.04,216.53 245.72,224 246.04,228.7 C246.37,233.41 247.18,238.45 247.99,242.34 C248.8,246.24 249.45,249.81 250.91,252.08 C252.37,254.36 255.78,255.33 256.76,255.98" stroke-width="1.1"/>
<path d="M242.14,204.35 C244.26,203.87 251.89,202.24 254.81,201.43 C257.73,200.62 258.87,199.81 259.68,199.48" stroke-width="1.2"/>
<path d="M246.04,214.09 C246.53,213.61 247.5,211.98 248.96,211.17 C250.42,210.36 253.02,209.55 254.81,209.22 C256.59,208.9 258.87,209.22 259.68,209.22" stroke-width="1"/>
<ellipse cx="238.2" cy="221.9" rx="2.8" ry="3.4" transform="rotate(-20 238.2 221.9)" stroke-width="1.2"/>
<ellipse cx="255.8" cy="208.2" rx="1.3" ry="1.7" transform="rotate(0 255.8 208.2)" stroke-width="1.3"/>
<ellipse cx="255.8" cy="256" rx="1.3" ry="1.7" transform="rotate(0 255.8 256)" stroke-width="1.3"/>
<path d="M251.89,242.73 L288.9,227.73" stroke-width="1.1"/>
<path d="M251.89,242.73 L291.82,240" stroke-width="1.1"/>
<path d="M257.73,247.21 L294.75,243.32" stroke-width="1.1"/>
<path d="M260.65,255.98 C262.93,255.65 269.09,254.19 274.29,254.03 C279.49,253.87 287.28,254.36 291.82,255 C296.37,255.65 299.94,257.44 301.56,257.93" stroke-width="1.1"/>
<path d="M260.65,260.85 C263.57,260.36 272.34,258.09 278.19,257.93 C284.03,257.76 291.5,258.9 295.72,259.88 C299.94,260.85 302.21,263.12 303.51,263.77" stroke-width="1.8"/>
<path d="M261.63,273.51 C264.39,273.03 272.83,270.91 278.19,270.59 C283.54,270.27 289.55,271.08 293.77,271.56 C297.99,272.05 301.89,273.19 303.51,273.51" stroke-width="1.2"/>
<path d="M260.65,255.98 L261.63,273.51" stroke-width="1.2"/>
<path d="M301.17,211.17 C300.66,212.31 298.97,215.98 298.06,217.99 C297.15,220 296.27,221.79 295.72,223.25 C295.17,224.71 294.91,226.17 294.75,226.76" stroke-width="1.1"/>
<path d="M303.51,206.3 C303.9,207.6 305.69,211.5 305.85,214.09 C306.01,216.69 305.2,219.78 304.49,221.89 C303.77,224 302.05,225.94 301.56,226.76" stroke-width="1.1"/>
<path d="M294.75,226.76 C295.23,228.06 296.21,231.95 297.67,234.55 C299.13,237.15 301.56,239.42 303.51,242.34 C305.46,245.26 308.06,248.84 309.36,252.08 C310.66,255.33 311.14,258.58 311.31,261.82 C311.47,265.07 310.98,268.32 310.33,271.56 C309.68,274.81 308.87,278.38 307.41,281.31 C305.95,284.23 302.54,287.8 301.56,289.1" stroke-width="1.2"/>
<path d="M301.56,226.76 C302.21,227.73 303.84,230.33 305.46,232.6 C307.08,234.87 309.52,237.47 311.31,240.39 C313.09,243.32 315.04,246.56 316.18,250.13 C317.31,253.71 317.96,258.25 318.12,261.82 C318.29,265.4 317.96,268.32 317.15,271.56 C316.34,274.81 314.71,278.38 313.25,281.31 C311.79,284.23 309.19,287.8 308.38,289.1" stroke-width="1.2"/>
<ellipse cx="298.6" cy="231.6" rx="1.6" ry="2" transform="rotate(0 298.6 231.6)" stroke-width="1.3"/>
<path d="M317.5,263.5 C315.5,263.5 314.5,265.5 315.3,267 M316,267.6 L317.2,268.6" stroke-width="1.3"/>
<path d="M295.72,271.56 C295.72,274.49 294.42,285.53 295.72,289.1 C297.02,292.67 301.56,292.67 303.51,292.99 C305.46,293.32 306.76,291.37 307.41,291.05" stroke-width="1.2"/>
<ellipse cx="325.7" cy="198.4" rx="6.4" ry="3.2" transform="rotate(0 325.7 198.4)" />
<ellipse cx="325.7" cy="198.3" rx="3" ry="1.7" transform="rotate(0 325.7 198.3)" />
<path d="M319.3,198.4 L319.3,208.8" />
<path d="M332.1,198.4 L332.1,209.4" />
<path d="M332.1,209 L332.05,209.34 L331.88,209.67 L331.61,209.99 L331.24,210.3 L330.78,210.58 L330.23,210.84 L329.6,211.06 L328.9,211.25 L328.15,211.4 L327.36,211.51 L326.54,211.58 L325.7,211.6 L324.86,211.58 L324.04,211.51 L323.25,211.4 L322.5,211.25 L321.8,211.06 L321.17,210.84 L320.62,210.58 L320.16,210.3 L319.79,209.99 L319.52,209.67 L319.35,209.34 L319.3,209" />
<path d="M333.2,208 L333.2,235" />
<path d="M334.6,208 L334.6,234.5" stroke-width="0.8"/>
<path d="M317.92,210.71 C317.92,211.9 318.46,216.02 317.92,217.86 C317.38,219.7 315.87,220.67 314.68,221.75 C313.48,222.84 311.43,223.92 310.78,224.35" />
<path d="M306.88,226.95 C307.32,226.95 307.97,226.52 309.48,226.95 C311,227.38 313.59,228.46 315.97,229.55 C318.35,230.63 321.39,232.36 323.77,233.44 C326.15,234.52 328.53,235.78 330.26,236.04 C331.99,236.3 333.51,235.17 334.16,235" stroke-width="1.1"/>
<path d="M308.18,230.84 C309.48,231.17 312.94,231.71 315.97,232.79 C319,233.87 323.55,236.36 326.36,237.34 C329.18,238.31 331.45,238.53 332.86,238.64 C334.26,238.74 334.48,238.1 334.81,237.99" stroke-width="1"/>
<path d="M334.16,235 L370,213.96" stroke-width="1.1"/>
<path d="M334.81,237.99 L370,219.16" stroke-width="1"/>
<path d="M370,230.84 C366.19,233.01 351.28,241.34 347.14,243.83 C343.01,246.32 345.41,244.81 345.19,245.78 C344.98,246.75 345.3,248.96 345.84,249.68 C346.39,250.39 344.42,252.12 348.44,250.06 C352.47,248.01 366.41,239.46 370,237.34" stroke-width="1.1"/>
<path d="M315.97,247.73 L344.55,236.04" />
<path d="M319.87,252.92 L344.55,242.53" />
<path d="M353.64,193.18 C354.94,192.86 358.7,191.45 361.43,191.23 C364.16,191.02 368.57,191.77 370,191.88" stroke-width="1.1"/>
<path d="M354.94,195.78 C356.23,195.45 360.22,194.05 362.73,193.83 C365.24,193.61 368.79,194.37 370,194.48" />
<path d="M357.53,198.38 C357.64,199.46 358.4,202.49 358.18,204.87 C357.97,207.25 356.88,210.71 356.23,212.66 C355.58,214.61 354.61,215.91 354.29,216.56" stroke-width="1.1"/>
<path d="M347.79,149.29 C348.66,148.96 351.26,148.1 352.99,147.34 C354.72,146.58 356.67,145.32 358.18,144.74 C359.7,144.16 360.78,143.83 362.08,143.83 C363.38,143.83 364.89,144.16 365.97,144.74 C367.06,145.32 367.81,146.36 368.57,147.34 C369.33,148.31 369.98,149.5 370.52,150.58 C371.06,151.67 371.06,152.75 371.82,153.83 C372.58,154.91 373.87,156 375.06,157.08 C376.26,158.16 377.66,159.03 378.96,160.32 C380.26,161.62 381.56,163.25 382.86,164.87 C384.16,166.49 385.67,168.33 386.75,170.06 C387.84,171.8 388.59,173.64 389.35,175.26 C390.11,176.88 390.87,178.51 391.3,179.81 C391.73,181.1 391.84,182.51 391.95,183.05" stroke-width="1.3"/>
<path d="M350.39,151.88 C351.26,151.56 353.74,150.58 355.58,149.94 C357.42,149.29 360.13,147.66 361.43,147.99 C362.73,148.31 362.62,150.58 363.38,151.88 C364.13,153.18 364.89,154.59 365.97,155.78 C367.06,156.97 368.35,157.84 369.87,159.03 C371.39,160.22 373.33,161.3 375.06,162.92 C376.8,164.55 378.74,166.93 380.26,168.77 C381.77,170.61 382.86,172.01 384.16,173.96 C385.45,175.91 387.4,179.37 388.05,180.45" stroke-width="1"/>
<path d="M358.18,162.27 L363.38,160.97" />
<path d="M351.04,153.18 L354.29,157.08" stroke-width="1.6"/>
<path d="M351.69,156.43 L354.55,159.68" stroke-width="1.4"/>
<ellipse cx="360.8" cy="174" rx="3" ry="2.4" transform="rotate(0 360.8 174)" />
<path d="M365.97,175.26 C367.27,175.48 370.95,176.13 373.77,176.56 C376.58,176.99 380.37,177.32 382.86,177.86 C385.35,178.4 387.29,178.94 388.7,179.81 C390.11,180.67 390.76,181.86 391.3,183.05 C391.84,184.24 392.06,185.76 391.95,186.95 C391.84,188.14 391.3,189.33 390.65,190.19 C390,191.06 389.35,191.71 388.05,192.14 C386.75,192.58 385.45,192.58 382.86,192.79 C380.26,193.01 375.71,193.23 372.47,193.44 C369.22,193.66 365.76,193.66 363.38,194.09 C361,194.52 359.05,195.71 358.18,196.04" stroke-width="1.3"/>
<ellipse cx="379" cy="185" rx="4" ry="2.5" transform="rotate(0 379 185)" />
<path d="M359.48,197.34 C361.65,197.12 367.71,196.47 372.47,196.04 C377.23,195.61 384.59,195.61 388.05,194.74 C391.52,193.87 392.38,191.49 393.25,190.84" stroke-width="1"/>
<path d="M354.77,180 C354.2,181.52 352.88,186.25 351.36,189.09 C349.85,191.93 347.58,194.96 345.68,197.05 C343.79,199.13 340.95,200.83 340,201.59" stroke-width="1.3"/>
<path d="M352.5,180 C351.93,181.33 350.61,185.49 349.09,187.95 C347.58,190.42 344.92,193.26 343.41,194.77 C341.89,196.29 340.57,196.67 340,197.05" stroke-width="1"/>
<path d="M353.64,198.18 C354.58,197.8 356.86,196.57 359.32,195.91 C361.78,195.25 365,194.58 368.41,194.2 C371.82,193.83 376.55,194.11 379.77,193.64 C382.99,193.16 385.83,192.5 387.73,191.36 C389.62,190.23 390.47,188.33 391.14,186.82 C391.8,185.3 391.61,183.03 391.7,182.27" stroke-width="1.3"/>
<path d="M352.5,199.32 C354.2,198.94 359.13,197.61 362.73,197.05 C366.33,196.48 369.92,196.29 374.09,195.91 C378.26,195.53 384.79,195.53 387.73,194.77 C390.66,194.02 391.04,191.93 391.7,191.36" stroke-width="1"/>
<path d="M390,180 C390.76,180.76 393.03,183.22 394.55,184.55 C396.06,185.87 397.58,186.82 399.09,187.95 C400.61,189.09 402.59,190.04 403.64,191.36 C404.68,192.69 405.25,194.39 405.34,195.91 C405.44,197.42 404.87,199.32 404.2,200.45 C403.54,201.59 401.84,202.35 401.36,202.73" stroke-width="1.3"/>
<path d="M393.41,189.09 C393.98,189.47 395.68,190.04 396.82,191.36 C397.95,192.69 399.75,195.15 400.23,197.05 C400.7,198.94 399.75,201.78 399.66,202.73" stroke-width="1"/>
<path d="M394.55,205 C394.64,206.52 395.3,211.06 395.11,214.09 C394.92,217.12 394.17,220.53 393.41,223.18 C392.65,225.83 391.14,228.11 390.57,230 C390,231.89 390.09,233.79 390,234.55" stroke-width="1.2"/>
<path d="M400.23,202.73 C400.32,204.62 401.08,210.68 400.8,214.09 C400.51,217.5 399.38,220.72 398.52,223.18 C397.67,225.64 396.34,227.16 395.68,228.86 C395.02,230.57 394.73,232.65 394.55,233.41" stroke-width="1.2"/>
<path d="M396.82,206.14 C396.91,207.46 397.58,211.25 397.39,214.09 C397.2,216.93 396.44,220.53 395.68,223.18 C394.92,225.83 393.31,228.86 392.84,230" stroke-width="0.9"/>
<ellipse cx="392.3" cy="233.4" rx="3.4" ry="2.4" transform="rotate(0 392.3 233.4)" stroke-width="1.1"/>
<path d="M358.18,197.05 C358.37,197.99 357.8,201.21 359.32,202.73 C360.83,204.24 365.38,205.19 367.27,206.14 C369.17,207.08 369.73,207.27 370.68,208.41 C371.63,209.55 372.58,211.25 372.95,212.95 C373.33,214.66 373.33,216.93 372.95,218.64 C372.58,220.34 371.06,222.42 370.68,223.18" stroke-width="1.2"/>
<path d="M362.73,199.32 L387.73,196.48" stroke-width="1.1"/>
<path d="M365,201.59 L386.59,198.75" stroke-width="1.1"/>
<path d="M368.41,206.14 L391.14,202.73" stroke-width="1.1"/>
<path d="M374.09,212.95 L393.41,208.41" stroke-width="1"/>
<path d="M357.61,198.18 C357.61,199.89 357.9,205.19 357.61,208.41 C357.33,211.63 356.95,214.85 355.91,217.5 C354.87,220.15 354.02,221.86 351.36,224.32 C348.71,226.78 341.89,230.95 340,232.27" stroke-width="1.2"/>
<path d="M370.68,223.18 C370.49,223.75 369.17,225.45 369.55,226.59 C369.92,227.73 372.2,228.67 372.95,230 C373.71,231.33 374.09,233.03 374.09,234.55 C374.09,236.06 373.14,238.33 372.95,239.09" stroke-width="1.2"/>
<path d="M340,236.82 L370.68,225.45" stroke-width="1.1"/>
<path d="M342.27,243.64 L371.82,230" stroke-width="1.1"/>
<path d="M342.27,243.64 C341.99,243.92 340.57,244.77 340.57,245.34 C340.57,245.91 336.88,248.09 342.27,247.05 C347.67,246 367.84,240.42 372.95,239.09" stroke-width="1.1"/>
<path d="M369.55,242.5 C370.3,242.69 372.39,243.64 374.09,243.64 C375.8,243.64 377.88,242.88 379.77,242.5 C381.67,242.12 384.51,241.55 385.45,241.36" stroke-width="1.1"/>
<path d="M374.09,239.09 L387.73,233.41" />
<ellipse cx="299.1" cy="280.6" rx="1.5" ry="2" transform="rotate(0 299.1 280.6)" stroke-width="1.3"/>
<path d="M290,266.36 C290.65,267.01 293.25,265.93 293.9,270.26 C294.55,274.59 292.6,288.01 293.9,292.34 C295.19,296.67 299.96,296.45 301.69,296.23 C303.42,296.02 303.42,291.69 304.29,291.04 C305.15,290.39 306.45,290.82 306.88,292.34 C307.32,293.85 306.23,298.61 306.88,300.13 C307.53,301.65 309.26,301.86 310.78,301.43 C312.29,301 315.11,298.18 315.97,297.53" stroke-width="1.3"/>
<circle cx="321.4" cy="291.5" r="5.9" fill="#fff" stroke-width="1.3"/>
<path d="M334.16,249.48 L334.16,272.86" stroke-width="1.1"/>
<path d="M339.35,249.48 L339.35,271.56" />
<path d="M342.6,252.08 L342.6,270.26" stroke-width="1.1"/>
<path d="M334.16,272.86 C335.45,273.07 340.65,271.99 341.95,274.16 C343.25,276.32 343.25,283.68 341.95,285.84 C340.65,288.01 336.32,287.14 334.16,287.14 C331.99,287.14 329.83,286.06 328.96,285.84" stroke-width="1.1"/>
<path d="M335.45,262.47 L340.65,248.18" />
<path d="M343.25,244.29 L370,232.6" stroke-width="1.1"/>
<path d="M343.25,257.27 L370,245.58" stroke-width="1.1"/>
<path d="M343.25,263.77 L370,252.08" stroke-width="1.1"/>
<path d="M342.6,268.96 L370,257.27" stroke-width="1.8"/>
<path d="M341.95,274.16 L370,262.47" stroke-width="1.1"/>
<path d="M327.66,280.65 L341.95,275.45" />
<path d="M315.97,284.55 L332.86,278.05" />
<path d="M322.47,248.18 C323.33,248.83 326.36,250.78 327.66,252.08 C328.96,253.38 329.61,254.46 330.26,255.97 C330.91,257.49 331.13,259.44 331.56,261.17 C331.99,262.9 332.64,265.5 332.86,266.36" stroke-width="1.1"/>
<path d="M318.57,244.29 C319.87,243.42 323.77,240.61 326.36,239.09 C328.96,237.58 331.34,236.49 334.16,235.19 C336.97,233.9 341.73,231.95 343.25,231.3" stroke-width="1.1"/>
<path d="M290,239.09 C291.3,239.31 295.19,239.74 297.79,240.39 C300.39,241.04 304.29,242.55 305.58,242.99" />
<ellipse cx="390.5" cy="241.8" rx="5" ry="2.6" transform="rotate(0 390.5 241.8)" stroke-width="1.2"/>
<path d="M385.32,242.47 C385.32,244.52 384.35,252.53 385.32,254.81 C386.3,257.08 389.65,256.1 391.17,256.1 C392.68,256.1 393.66,255.35 394.42,254.81 C395.17,254.26 395.5,255.02 395.71,252.86 C395.93,250.69 395.71,243.66 395.71,241.82" stroke-width="1.3"/>
<path d="M370.39,242.47 C371.04,243.12 372.77,245.5 374.29,246.36 C375.8,247.23 377.86,247.66 379.48,247.66 C381.1,247.66 383.27,246.58 384.03,246.36" stroke-width="1.1"/>
<path d="M372.99,239.87 L388.57,232.08" />
<path d="M360,256.75 L385.32,248.96" stroke-width="1.1"/>
<path d="M360,261.95 L385.32,252.86" stroke-width="1.8"/>
<path d="M360,264.55 L385.97,254.81" stroke-width="1.1"/>
<path d="M250.31,184.13 C253.35,183.73 262.28,182.71 268.57,181.7 C274.86,180.68 282.97,178.45 288.05,178.05 C293.12,177.64 294.54,177.64 299,179.26 C303.47,180.89 310.57,184.74 314.83,187.79 C319.09,190.83 322.13,194.68 324.57,197.52 C327,200.37 328.63,203.61 329.44,204.83" stroke-width="1.1"/>
<path d="M246.65,189 C250.31,188.6 261.67,187.5 268.57,186.57 C275.47,185.63 283.18,184.09 288.05,183.4 C292.92,182.71 293.73,181.29 297.79,182.43 C301.84,183.57 308.34,187.5 312.39,190.22 C316.45,192.94 319.7,196.31 322.13,198.74 C324.57,201.18 326.19,203.82 327,204.83" stroke-width="1.1"/>
<path d="M305.5,224 C305.88,224.52 306.67,225.25 307.8,227.1 C308.93,228.95 310.78,232.45 312.3,235.1 C313.82,237.75 315.57,240.35 316.9,243 C318.23,245.65 319.45,248.15 320.3,251 C321.15,253.85 321.62,257.45 322,260.1 C322.38,262.75 322.7,264.62 322.6,266.9 C322.5,269.18 322.08,271.45 321.4,273.8 C320.72,276.15 318.98,279.8 318.5,281" stroke-width="1.2"/>
<path d="M86.82,220.84 C87.03,220.74 87.66,220.22 88.12,220.19 C88.57,220.17 89.18,220.39 89.55,220.71 C89.91,221.04 90.19,221.9 90.32,222.14" stroke-width="1.3"/>
<path d="M87.21,220.71 C85.74,221.71 81.15,224.18 78.38,226.69 C75.61,229.2 72.53,232.75 70.58,235.78 C68.64,238.81 67.6,241.84 66.69,244.87 C65.78,247.9 65.45,250.28 65.13,253.96 C64.81,257.64 64.81,260.11 64.74,266.95 C64.68,273.79 64.74,290.32 64.74,295" stroke-width="1.4"/>
<path d="M89.42,222.14 C87.9,223.12 82.86,225.61 80.32,227.99 C77.79,230.37 75.84,233.61 74.22,236.43 C72.6,239.24 71.41,241.95 70.58,244.87 C69.76,247.79 69.5,251.36 69.29,253.96 C69.07,256.56 69.29,259.37 69.29,260.45" stroke-width="1"/>
<path d="M90.32,222.14 L90.32,250.06" stroke-width="1.2"/>
<path d="M75.78,266.95 L90.06,255.26" />
<path d="M90.32,250.06 C90.93,251.15 91.62,254.39 93.96,256.56 C96.3,258.72 102.4,261.65 104.35,263.05 C106.3,264.46 106.52,264.13 105.65,265 C104.78,265.87 100.45,267.27 99.16,268.25 C97.86,269.22 98.07,270.41 97.86,270.84" stroke-width="1.2"/>
<path d="M67.14,262.99 C67.47,264.29 67.9,268.29 69.09,270.78 C70.28,273.27 72.12,275.76 74.29,277.92 C76.45,280.09 79.26,282.03 82.08,283.77 C84.89,285.5 87.92,286.8 91.17,288.31 C94.42,289.83 97.66,291.34 101.56,292.86 C105.45,294.37 111.73,296.43 114.55,297.4 C117.36,298.38 117.79,298.48 118.44,298.7" stroke-width="1.2"/>
<path d="M68.05,257.79 C68.44,259.09 69.03,262.99 70.39,265.58 C71.75,268.18 73.85,271.1 76.23,273.38 C78.61,275.65 81.75,277.45 84.68,279.22 C87.6,281 90.52,282.4 93.77,284.03 C97.01,285.65 100.26,287.27 104.16,288.96 C108.05,290.65 114.98,293.29 117.14,294.16" stroke-width="1"/>
<path d="M65.45,262.99 C65.52,266.23 65.67,277.49 65.84,282.47 C66.02,287.45 65.95,289.61 66.49,292.86 C67.03,296.1 67.79,299.35 69.09,301.95 C70.39,304.55 72.12,306.49 74.29,308.44 C76.45,310.39 79.05,311.9 82.08,313.64 C85.11,315.37 88.79,317.32 92.47,318.83 C96.15,320.35 100.26,321.65 104.16,322.73 C108.05,323.81 111.95,324.57 115.84,325.32 C119.74,326.08 123.51,326.84 127.53,327.27 C131.56,327.71 137.92,327.81 140,327.92" stroke-width="1.4"/>
<path d="M67.14,275.97 C68.12,277.27 69.85,281.17 72.99,283.77 C76.13,286.36 81.65,289.18 85.97,291.56 C90.3,293.94 94.63,296.1 98.96,298.05 C103.29,300 109.78,302.38 111.95,303.25" stroke-width="1"/>
<path d="M111.95,303.25 L111.95,318.83" stroke-width="1"/>
<path d="M67.79,292.86 C68.66,294.37 69.96,299.13 72.99,301.95 C76.02,304.76 81.65,307.58 85.97,309.74 C90.3,311.9 94.63,313.42 98.96,314.94 C103.29,316.45 109.78,318.18 111.95,318.83" stroke-width="2.4"/>
<path d="M67.14,275.97 L67.79,292.86" stroke-width="1"/>
<ellipse cx="97.7" cy="275.3" rx="4.3" ry="2.5" transform="rotate(0 97.7 275.3)" />
<ellipse cx="97.7" cy="275.3" rx="2.2" ry="1.3" transform="rotate(0 97.7 275.3)" />
<path d="M93.4,275.3 L93.4,281" />
<path d="M102,275.3 L102,282.5" />
<path d="M104.9,275.4 C105.92,275.53 108.83,275.77 111,276.2 C113.17,276.63 116.75,277.7 117.9,278" stroke-width="1.1"/>
<path d="M104.9,276 L104.9,284.5" />
<path d="M113.3,277 L113.3,289.7" />
<path d="M115.3,278 L115.3,290" />
<path d="M119.2,278 C118.87,279.08 116.98,282.33 117.2,284.5 C117.42,286.67 119.3,289.48 120.5,291 C121.7,292.52 123.75,293.17 124.4,293.6" stroke-width="1.1"/>
<path d="M122.4,277.3 C122.18,278.5 120.77,282 121.1,284.5 C121.43,287 123.85,291 124.4,292.3" />
<path d="M121.3,281.5 L126.5,275.6 L128.6,276.8 L123.6,283 Z" fill="#222" stroke-width="0.8"/>
<path d="M121,276.5 C121.5,276.25 122.83,275.2 124,275 C125.17,274.8 127.07,274.97 128,275.3 C128.93,275.63 129.33,276.72 129.6,277" stroke-width="1.1"/>
<path d="M129.6,276.7 L129.6,293.6" stroke-width="1.1"/>
<path d="M144.5,299.5 C146,297.8 149,298.5 151,301 C152.5,303.5 151.5,306.5 149,306.3 C146.5,306 144,302 144.5,299.5 Z" fill="#222" stroke-width="1"/>
<path d="M147.3,301.8 C148.3,301.3 149.3,302.6 149.1,303.8" stroke="#fff" stroke-width="0.9"/>
<path d="M151,296.5 L161.4,294.3 L163.3,296.3 L163,300.5 L154,302.6" stroke-width="1.1"/>
<path d="M163,300.5 L168.7,298.8 L176.8,303.3" stroke-width="1.1"/>
<path d="M117.14,294.81 C117.14,297.08 116.49,305.74 117.14,308.44 C117.79,311.15 119.09,310.61 121.04,311.04 C122.99,311.47 126.88,311.26 128.83,311.04 C130.78,310.82 132.08,309.96 132.73,309.74" stroke-width="1.1"/>
<ellipse cx="123" cy="297.4" rx="2.2" ry="1.5" transform="rotate(0 123 297.4)" />
<path d="M117.14,294.81 C118.01,294.7 120.61,294.05 122.34,294.16 C124.07,294.26 125.8,295.45 127.53,295.45 C129.26,295.45 130.65,294.16 132.73,294.16 C134.81,294.16 138.79,295.24 140,295.45" stroke-width="1.1"/>
<path d="M134.68,299.35 L134.68,320.13" stroke-width="0.9"/>
<path d="M130,294.42 C130.87,294.52 133.46,294.52 135.19,295.06 C136.93,295.61 138.66,296.36 140.39,297.66 C142.12,298.96 143.85,301.13 145.58,302.86 C147.32,304.59 149.05,306.97 150.78,308.05 C152.51,309.13 152.94,309.57 155.97,309.35 C159,309.13 164.63,307.62 168.96,306.75 C173.29,305.89 178.92,305.02 181.95,304.16 C184.98,303.29 185.84,302.64 187.14,301.56 C188.44,300.48 189.2,299.61 189.74,297.66 C190.28,295.71 189.96,291.82 190.39,289.87 C190.82,287.92 191.15,287.06 192.34,285.97 C193.53,284.89 196.13,283.59 197.53,283.38 C198.94,283.16 200.13,284.03 200.78,284.68 C201.43,285.32 201.32,282.29 201.43,287.27 C201.54,292.25 201.86,309.35 201.43,314.55 C201,319.74 200.13,317.36 198.83,318.44 C197.53,319.52 194.5,320.61 193.64,321.04" stroke-width="1.3"/>
<path d="M130,297.66 C130.87,297.77 133.46,297.77 135.19,298.31 C136.93,298.85 138.66,299.72 140.39,300.91 C142.12,302.1 143.85,303.94 145.58,305.45 C147.32,306.97 149.05,309.03 150.78,310 C152.51,310.97 152.94,311.52 155.97,311.3 C159,311.08 164.63,309.57 168.96,308.7 C173.29,307.84 178.7,307.08 181.95,306.1 C185.19,305.13 186.82,304.05 188.44,302.86 C190.06,301.67 191.04,300.91 191.69,298.96 C192.34,297.01 191.8,293.01 192.34,291.17 C192.88,289.33 193.64,288.68 194.94,287.92 C196.23,287.16 199.26,286.84 200.13,286.62" stroke-width="1"/>
<path d="M193.64,289.87 L193.64,319.74" stroke-width="1.1"/>
<path d="M130,319.74 C131.3,320.17 135.19,321.04 137.79,322.34 C140.39,323.64 143.42,326.13 145.58,327.53 C147.75,328.94 147.97,330.24 150.78,330.78 C153.59,331.32 158.35,331.1 162.47,330.78 C166.58,330.45 171.56,329.59 175.45,328.83 C179.35,328.07 183.03,327.53 185.84,326.23 C188.66,324.94 191.26,321.9 192.34,321.04" stroke-width="1.3"/>
<path d="M150.78,311.95 L150.78,330.13" stroke-width="1.1"/>
<path d="M133.9,298.96 L133.9,317.14" stroke-width="0.9"/>
<path d="M202,291.3 L207.5,289" />
<path d="M77.79,334.68 C78.01,333.7 78.01,333.38 79.09,332.73 C80.17,332.08 82.34,331.75 84.29,330.78 C86.23,329.81 88.83,328.18 90.78,326.88 C92.73,325.58 94.68,323.74 95.97,322.99 C97.27,322.23 97.71,322.12 98.57,322.34 C99.44,322.55 99.44,323.1 101.17,324.29 C102.9,325.48 106.36,327.64 108.96,329.48 C111.56,331.32 114.37,333.48 116.75,335.32 C119.13,337.16 121.84,339.11 123.25,340.52 C124.65,341.93 124.98,342.36 125.19,343.77 C125.41,345.17 125.09,347.45 124.55,348.96 C124,350.48 123.03,351.56 121.95,352.86 C120.87,354.16 119.35,355.56 118.05,356.75 C116.75,357.94 115.67,359.13 114.16,360 C112.64,360.87 110.69,361.62 108.96,361.95 C107.23,362.27 105.93,362.38 103.77,361.95 C101.6,361.52 98.14,360.65 95.97,359.35 C93.81,358.05 92.51,355.89 90.78,354.16 C89.05,352.42 87.32,350.91 85.58,348.96 C83.85,347.01 81.69,344.2 80.39,342.47 C79.09,340.74 78.23,339.87 77.79,338.57 C77.36,337.27 77.58,335.65 77.79,334.68 Z" stroke-width="1.4"/>
<path d="M80.39,335.32 C81.19,334.42 83.1,334.13 84.94,333.12 C86.77,332.1 89.48,330.52 91.43,329.22 C93.38,327.92 95.39,326.08 96.62,325.32 C97.86,324.57 98.07,324.5 98.83,324.68 C99.59,324.85 99.52,325.24 101.17,326.36 C102.81,327.49 106.21,329.65 108.7,331.43 C111.19,333.2 113.9,335.32 116.1,337.01 C118.31,338.7 120.76,340.39 121.95,341.56 C123.14,342.73 123.14,342.9 123.25,344.03 C123.35,345.15 123.07,347.06 122.6,348.31 C122.12,349.57 121.36,350.43 120.39,351.56 C119.42,352.68 117.97,353.98 116.75,355.06 C115.54,356.15 114.48,357.25 113.12,358.05 C111.75,358.85 110.09,359.57 108.57,359.87 C107.06,360.17 105.97,360.26 104.03,359.87 C102.08,359.48 98.87,358.7 96.88,357.53 C94.89,356.36 93.74,354.46 92.08,352.86 C90.41,351.26 88.57,349.76 86.88,347.92 C85.19,346.08 83.07,343.38 81.95,341.82 C80.82,340.26 80.39,339.65 80.13,338.57 C79.87,337.49 79.59,336.23 80.39,335.32 Z" stroke-width="0.9"/>
<ellipse cx="103.1" cy="341.8" rx="11" ry="9.6" transform="rotate(60 103.1 341.8)" stroke-width="1.3"/>
<ellipse cx="103.1" cy="341.8" rx="8.8" ry="7.4" transform="rotate(60 103.1 341.8)" stroke-width="1.1"/>
<ellipse cx="103.5" cy="341" rx="6" ry="3" transform="rotate(60 103.5 341)" stroke-width="1.6"/>
<path d="M101.17,337.92 L106.36,345.06" stroke-width="1.2"/>
<path d="M102.47,336.62 L107.66,343.77" stroke-width="1"/>
<ellipse cx="86.9" cy="334.7" rx="2.2" ry="1.3" transform="rotate(-30 86.9 334.7)" />
<circle cx="83" cy="337.9" r="1.2" fill="#000"/>
<circle cx="121.3" cy="345.1" r="1.2" fill="#000"/>
<path d="M90.5,340 C88.5,339.5 87.7,341.5 88.7,342.8" stroke-width="1.2"/>
<path d="M113.51,341.17 C113.94,340.84 115.17,339.11 116.1,339.22 C117.03,339.33 118.44,340.41 119.09,341.82 C119.74,343.23 120.06,345.93 120,347.66 C119.94,349.39 119.46,351.34 118.7,352.21 C117.94,353.07 116.36,353.4 115.45,352.86 C114.55,352.32 113.57,350.91 113.25,348.96 C112.92,347.01 113.46,342.47 113.51,341.17" stroke-width="1.2"/>
<path d="M114.81,348.96 C115.13,348.2 116.21,344.31 116.75,344.42 C117.29,344.52 118.38,348.85 118.05,349.61 C117.73,350.37 115.35,349.07 114.81,348.96" stroke-width="1"/>
<path d="M86.88,345.71 C87.97,346.26 91,347.45 93.38,348.96 C95.76,350.48 99.22,353.18 101.17,354.81 C103.12,356.43 104.85,357.84 105.06,358.7 C105.28,359.57 103.77,360.32 102.47,360 C101.17,359.68 99.11,358.16 97.27,356.75 C95.43,355.35 93.05,352.97 91.43,351.56 C89.81,350.15 88.29,349.29 87.53,348.31 C86.77,347.34 86.99,346.15 86.88,345.71" stroke-width="1.1"/>
<path d="M97.27,322.34 C99.22,322.66 105.28,323.53 108.96,324.29 C112.64,325.04 116.1,326.02 119.35,326.88 C122.6,327.75 125.41,328.72 128.44,329.48 C131.47,330.24 134.72,330.56 137.53,331.43 C140.35,332.29 143.25,333.92 145.32,334.68 C147.4,335.43 149.22,335.76 150,335.97" stroke-width="1.2"/>
<path d="M120.65,327.53 C121.3,328.07 123.68,329.7 124.55,330.78 C125.41,331.86 125.63,333.48 125.84,334.03" stroke-width="1"/>
<path d="M124.55,330.78 L150,335.97" />
<path d="M88.18,354.16 C89.05,355.45 91.21,360.22 93.38,361.95 C95.54,363.68 98.57,364.11 101.17,364.55 C103.77,364.98 106.36,364.98 108.96,364.55 C111.56,364.11 114.37,363.03 116.75,361.95 C119.13,360.87 122.16,358.7 123.25,358.05" stroke-width="1.2"/>
<path d="M95.97,364.55 C98.14,365.63 106.15,369.74 108.96,371.04 C111.77,372.34 112.21,372.12 112.86,372.34" stroke-width="1.1"/>
<ellipse cx="117.5" cy="373.3" rx="4.5" ry="2.8" transform="rotate(20 117.5 373.3)" stroke-width="1.1"/>
<path d="M80.39,310 C81.9,310.87 85.8,313.68 89.48,315.19 C93.16,316.71 98.79,318.23 102.47,319.09 C106.15,319.96 110.04,320.17 111.56,320.39" stroke-width="1.1"/>
<path d="M133.64,310 L133.64,317.79" />
<path d="M133.64,319.09 C135.15,320.17 140,323.64 142.73,325.58 C145.45,327.53 148.79,329.91 150,330.78" />
<path d="M115.84,330 C117.55,332.19 124.49,339.98 126.07,343.15 C127.66,346.32 126.07,347.05 125.34,348.99 C124.61,350.94 123.27,353.13 121.69,354.84 C120.11,356.54 117.79,358.13 115.84,359.22 C113.9,360.32 110.97,361.05 110,361.41" stroke-width="1.2"/>
<path d="M127.53,348.99 C130.46,347.41 141.41,341.69 145.07,339.5 C148.72,337.31 148.72,336.45 149.45,335.84" stroke-width="1.2"/>
<path d="M128.26,349.73 L129.73,366.53" stroke-width="1.1"/>
<path d="M145.07,340.23 L145.07,361.41" stroke-width="1.1"/>
<path d="M121.69,332.19 C124.12,332.44 131.67,333.04 136.3,333.65 C140.93,334.26 147.26,335.48 149.45,335.84" stroke-width="1.1"/>
<path d="M146.53,334.38 C149.45,334.87 161.14,336.82 164.06,337.31" stroke-width="1.1"/>
<path d="M164.06,337.31 C165.28,336.94 169.42,335.84 171.37,335.11 C173.32,334.38 174.53,333.77 175.75,332.92 C176.97,332.07 178.19,330.49 178.67,330" stroke-width="1.2"/>
<path d="M183.06,330 C183.79,331.22 186.34,335.11 187.44,337.31 C188.54,339.5 189.39,341.2 189.63,343.15 C189.88,345.1 189.75,347.53 188.9,348.99 C188.05,350.46 185.98,351.19 184.52,351.92 C183.06,352.65 180.86,353.13 180.13,353.38" stroke-width="1.2"/>
<path d="M174.29,335.84 C175.02,337.06 177.46,340.96 178.67,343.15 C179.89,345.34 181.11,347.29 181.6,348.99 C182.08,350.7 181.6,352.65 181.6,353.38" />
<path d="M164.06,337.31 L164.79,348.99" stroke-width="1.1"/>
<path d="M164.79,338.77 C165.89,339.25 169.78,340.47 171.37,341.69 C172.95,342.91 173.8,345.34 174.29,346.07" />
<circle cx="172.8" cy="348.6" r="1.9" stroke-width="1.1"/>
<path d="M131.92,363.61 L169.91,353.38" stroke-width="1.1"/>
<path d="M133.38,365.8 L169.91,355.57" stroke-width="1"/>
<path d="M140.68,367.26 L168.45,359.95" stroke-width="1.1"/>
<path d="M134.84,368.28 L142.44,365.36" stroke-width="2"/>
<circle cx="139.2" cy="373.8" r="3" stroke-width="1.2"/><circle cx="139.2" cy="373.8" r="1.4" stroke-width="1"/>
<path d="M126.07,378.22 C127.78,379.44 133.38,383.33 136.3,385.52 C139.22,387.71 141.41,390.03 143.61,391.37 C145.8,392.71 147.5,393.32 149.45,393.56 C151.4,393.8 153.83,393.44 155.3,392.83 C156.76,392.22 157.73,391.12 158.22,389.91 C158.7,388.69 158.22,386.25 158.22,385.52" stroke-width="1.3"/>
<path d="M143.61,379.68 C145.8,379.92 154.32,380.17 156.76,381.14 C159.19,382.11 157.97,384.79 158.22,385.52" stroke-width="1.1"/>
<circle cx="150.2" cy="379.7" r="1.6" fill="#000"/>
<path d="M158.22,385.52 C161.14,384.31 172.71,381.87 175.75,378.22 C178.8,374.56 176.36,366.04 176.48,363.61" stroke-width="1.2"/>
<path d="M156.76,381.14 C158.7,379.92 165.52,376.27 168.45,373.83 C171.37,371.4 173.32,367.75 174.29,366.53" stroke-width="1.1"/>
<path d="M158.22,376.76 C159.68,375.3 165.52,369.45 166.98,367.99" />
<path d="M165.52,369.45 C166.74,367.75 171.12,360.68 172.83,359.22 C174.53,357.76 175.26,360.44 175.75,360.68" stroke-width="1.1"/>
<path d="M110,370.91 C111.46,371.89 115.6,375.05 118.77,376.76 C121.93,378.46 127.29,380.41 128.99,381.14" stroke-width="1.2"/>
<path d="M124.61,379.68 L143.61,391.37" stroke-width="1.1"/>
</g>
<g>
<text x="255.8" y="56" text-anchor="middle">1</text>
<text x="485.3" y="34.6" text-anchor="middle">2</text>
<text x="550.6" y="34.6" text-anchor="middle">6</text>
<text x="423.2" y="75" text-anchor="middle">3</text>
<text x="535.4" y="199.7" text-anchor="middle">5</text>
<text x="560.4" y="188.5" text-anchor="middle">4</text>
<text x="160" y="247.3" text-anchor="middle">1-1</text>
<text x="62.2" y="346.2" text-anchor="middle">1-4</text>
<text x="46" y="362.5" text-anchor="middle">1-3</text>
<text x="74.8" y="444.2" text-anchor="middle">1-2</text>
<text x="106" y="423.2" text-anchor="middle">1-4</text>
<text x="228.6" y="486.4" text-anchor="middle">12</text>
<text x="260.2" y="463.6" text-anchor="middle">13</text>
<text x="312.1" y="428.5" text-anchor="middle">14</text>
<text x="364.7" y="533.2" text-anchor="middle">10</text>
<text x="362.2" y="577.3" text-anchor="middle">8</text>
<text x="362.5" y="599.7" text-anchor="middle">9</text>
<text x="362.2" y="623" text-anchor="middle">8</text>
<text x="362.4" y="669.8" text-anchor="middle">7</text>
<text x="218.8" y="760.3" text-anchor="middle">11</text>
</g>
</svg>
</body></html>
